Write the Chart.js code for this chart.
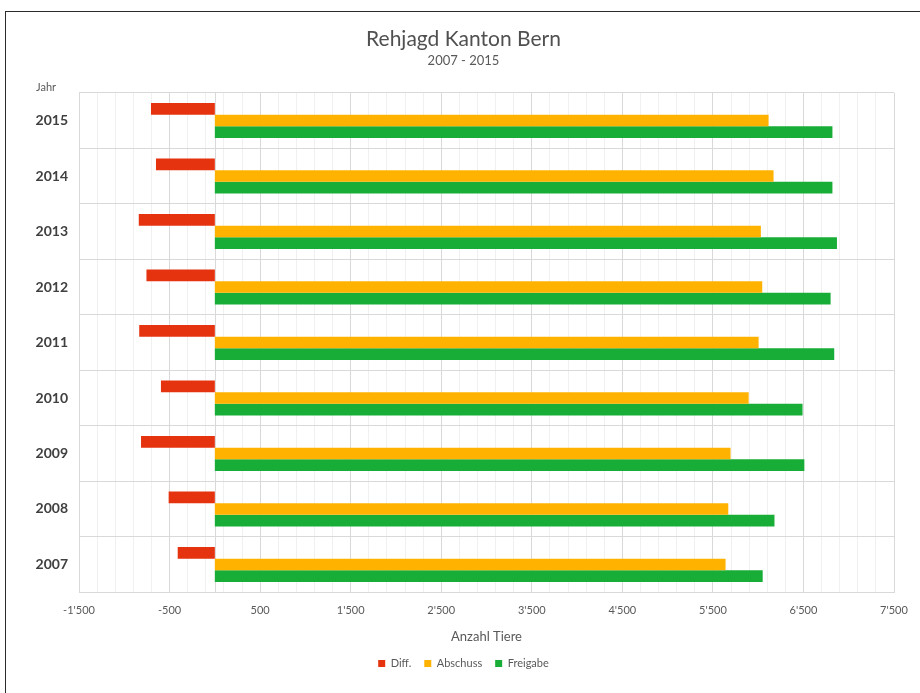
<!DOCTYPE html>
<html>
<head>
<meta charset="utf-8">
<title>Rehjagd Kanton Bern</title>
<script src="https://cdn.jsdelivr.net/npm/chart.js@4"></script>
<style>
  html, body { margin: 0; padding: 0; background: #fff; overflow: hidden; }
  #wrap { position: relative; width: 920px; height: 693px; }
  #frame {
    position: absolute; left: 5px; top: 11px; width: 930px; height: 700px;
    border-left: 1.5px solid #2b2b2b; border-top: 1.5px solid #2b2b2b;
    pointer-events: none;
  }
  canvas { position: absolute; left: 0; top: 0; }
</style>
</head>
<body>
<div id="wrap">
  <canvas id="c" width="920" height="693"></canvas>
  <div id="frame"></div>
</div>
<script>
// Jahre, von oben nach unten
const jahre = ['2015', '2014', '2013', '2012', '2011', '2010', '2009', '2008', '2007'];

// Anzahl Tiere pro Jahr
const diff      = [-705, -650, -840, -755, -835, -595, -815, -510, -410];
const abschuss  = [6115, 6170, 6030, 6045, 6005, 5895, 5695, 5670, 5640];
const freigabe  = [6820, 6820, 6870, 6800, 6840, 6490, 6510, 6180, 6050];

// Achsenbeschriftung der x-Achse (Hauptstriche alle 1000)
const xMin = -1500, xMax = 7500, xMajor = 1000, xMinor = 200;
const xTickLabels = ["-1'500", "-500", "500", "1'500", "2'500", "3'500", "4'500", "5'500", "6'500", "7'500"];

const FONT = "Lato, 'Open Sans', 'DejaVu Sans', sans-serif";
const GREY = '#595959';

const isMajor = v => Math.abs(((v - xMin) % xMajor + xMajor) % xMajor) < 1e-6;

// "Jahr" über den Jahreszahlen und senkrechte Linie bei 0
const extras = {
  id: 'extras',
  beforeDatasetsDraw(chart) {
    const { ctx, chartArea, scales } = chart;
    const x0 = Math.round(scales.x.getPixelForValue(0)) + 0.5;
    ctx.save();
    ctx.strokeStyle = '#d9d9d9';
    ctx.lineWidth = 1;
    ctx.beginPath();
    ctx.moveTo(x0, chartArea.top);
    ctx.lineTo(x0, chartArea.bottom);
    ctx.stroke();
    ctx.restore();
  },
  afterDraw(chart) {
    const { ctx, chartArea } = chart;
    ctx.save();
    ctx.fillStyle = GREY;
    ctx.font = "11px " + FONT;
    ctx.textAlign = 'left';
    ctx.textBaseline = 'middle';
    ctx.fillText('Jahr', 36, chartArea.top - 5);
    ctx.restore();
  }
};

new Chart(document.getElementById('c'), {
  type: 'bar',
  data: {
    labels: jahre,
    datasets: [
      { label: 'Diff.',    data: diff,     backgroundColor: '#E5320F' },
      { label: 'Abschuss', data: abschuss, backgroundColor: '#FFB300' },
      { label: 'Freigabe', data: freigabe, backgroundColor: '#18AD37' }
    ]
  },
  options: {
    indexAxis: 'y',
    responsive: false,
    animation: false,
    devicePixelRatio: 1,
    datasets: {
      bar: { categoryPercentage: 0.63, barPercentage: 1.0, borderWidth: 0 }
    },
    layout: { padding: { left: 33, right: 26, top: 0, bottom: 14 } },
    plugins: {
      title: {
        display: true,
        text: 'Rehjagd Kanton Bern',
        color: '#505050',
        font: { family: FONT, size: 21, weight: 'normal' },
        padding: { top: 27, bottom: 1 }
      },
      subtitle: {
        display: true,
        text: '2007 - 2015',
        color: GREY,
        font: { family: FONT, size: 13, weight: 'normal' },
        padding: { top: 0, bottom: 24 }
      },
      legend: {
        position: 'bottom',
        labels: {
          boxWidth: 7, boxHeight: 7, padding: 13,
          color: GREY,
          font: { family: FONT, size: 11 }
        }
      },
      tooltip: { enabled: false }
    },
    scales: {
      x: {
        min: xMin, max: xMax,
        ticks: {
          stepSize: xMinor,
          autoSkip: false,
          maxRotation: 0,
          padding: 12,
          color: GREY,
          font: { family: FONT, size: 11 },
          callback: (v) => isMajor(v) ? xTickLabels[Math.round((v - xMin) / xMajor)] : ''
        },
        grid: {
          drawTicks: false,
          color: (ctx) => (ctx.tick && isMajor(ctx.tick.value)) ? '#d9d9d9' : '#f0f0f0',
          lineWidth: 1
        },
        border: { color: '#d9d9d9' },
        title: {
          display: true,
          text: 'Anzahl Tiere',
          color: GREY,
          font: { family: FONT, size: 13 },
          padding: { top: 0, bottom: 0 }
        }
      },
      y: {
        ticks: {
          padding: 11,
          color: '#404040',
          font: { family: FONT, size: 14, weight: 'bold' }
        },
        grid: { drawTicks: false, color: '#d9d9d9', offset: true },
        border: { color: '#d9d9d9' },
        afterFit(scale) { scale.width = 46; }
      }
    }
  },
  plugins: [extras]
});
</script>
</body>
</html>
